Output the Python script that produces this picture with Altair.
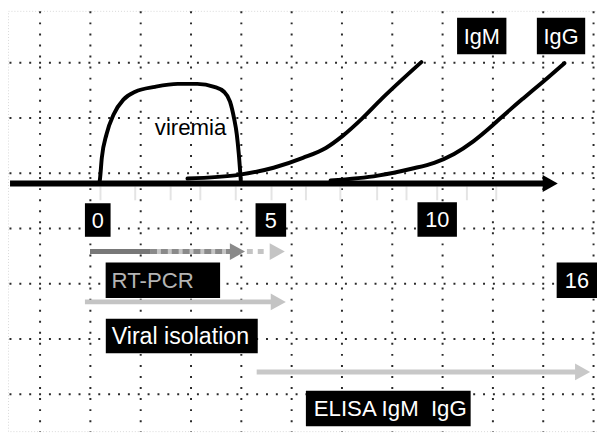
import altair as alt
import pandas as pd

# ---------------- data ----------------
# x = days after onset, y = relative level (0 = time axis)
viremia_day = [0.0, 0.03, 0.09, 0.23, 0.44, 0.73, 1.08, 1.67, 2.34, 2.92, 3.42, 3.71, 3.89, 4.01, 4.09, 4.15, 4.21]
viremia_level = [0.0, 0.3, 2.6, 5.0, 7.0, 8.5, 9.3, 9.8, 10.1, 10.1, 9.8, 9.3, 8.3, 6.6, 5.0, 3.0, 0.3]

igm_day = [2.63, 4.18, 5.18, 6.05, 6.73, 7.22, 7.81, 8.39, 8.98, 9.56]
igm_level = [0.5, 0.9, 1.6, 2.6, 3.6, 4.8, 6.6, 8.6, 10.5, 12.3]

igg_day = [6.87, 8.27, 9.27, 9.94, 10.53, 11.11, 11.64, 11.93, 12.57, 13.16, 13.80]
igg_level = [0.3, 0.8, 1.5, 2.1, 3.0, 4.3, 5.8, 6.7, 8.6, 10.3, 12.2]

tick_day = [0.05, 1.08, 2.13, 3.01, 4.06, 5.12, 6.14, 7.16, 8.25, 9.12, 10.03, 10.91, 11.78]

# labels in black boxes, centred
num_text = ["0", "5", "10", "16", "IgM", "IgG"]
num_day = [-0.03, 5.10, 10.03, 14.17, 11.35, 13.70]
num_level = [-3.7, -3.7, -3.65, -9.8, 14.95, 14.95]

# labels in black boxes, left aligned (box centre)
test_text = ["RT-PCR", "Viral isolation", "ELISA IgM\u00a0\u00a0IgG"]
test_day = [1.90, 2.46, 8.58]
test_level = [-9.8, -15.45, -22.8]

# arrows: start day, end day, level
arrow_name = ["axis", "rtpcr", "rtpcr_dash", "rtpcr_light", "isolation", "elisa"]
arrow_start = [-2.63, -0.26, 1.52, 4.39, -0.41, 4.68]
arrow_end = [13.22, 1.52, 3.89, 5.03, 5.18, 14.18]
arrow_level = [0.0, -6.9, -6.9, -6.9, -12.0, -19.1]

head_day = [13.38, 4.11, 5.29, 5.32, 14.34]
head_level = [0.0, -6.9, -6.9, -12.0, -19.1]

# ---------------- frame / style ----------------
W, H = 597, 426
X0, SX = 100.0, 34.2   # pixel of day 0, pixels per day
Y0, SY = 183.0, 10.0   # pixel of level 0, pixels per level unit
XDOM = [(8 - X0) / SX, (8 + W - X0) / SX]
YDOM = [(Y0 - 8 - H) / SY, (Y0 - 8) / SY]
grid_x = [(40 + 51 * k - X0) / SX for k in range(12)]
grid_y = [(Y0 - (60 + 56 * k)) / SY for k in range(7)]
FONT = "Liberation Sans"

box_size = {"0": (26, 34), "5": (31, 34), "10": (40, 35), "16": (41, 36),
            "IgM": (50, 37), "IgG": (49, 37),
            "RT-PCR": (116, 36), "Viral isolation": (154, 35), test_text[2]: (167, 36)}
text_pad = {"RT-PCR": 6, "Viral isolation": 6, test_text[2]: 8}
text_size = {"RT-PCR": 22.5, "Viral isolation": 23.5, test_text[2]: 22.5}
arrow_style = {"axis": ("#000000", 6), "rtpcr": ("#787878", 5), "rtpcr_dash": ("#c6c6c6", 5),
               "rtpcr_light": ("#c4c4c4", 5), "isolation": ("#c4c4c4", 5), "elisa": ("#c8c8c8", 5)}
head_color = ["#000000", "#8a8a8a", "#c4c4c4", "#c4c4c4", "#c8c8c8"]
TRI = "M-0.9,-1L0.9,0L-0.9,1Z"


def X(field):
    return alt.X(field, type="quantitative",
                 scale=alt.Scale(domain=XDOM, nice=False, zero=False),
                 axis=alt.Axis(values=grid_x, grid=True, gridColor="#2a2a2a", gridWidth=2,
                               gridDash=[2, 9.2], labels=False, ticks=False, domain=False, title=None))


def Y(field):
    return alt.Y(field, type="quantitative",
                 scale=alt.Scale(domain=YDOM, nice=False, zero=False),
                 axis=alt.Axis(values=grid_y, grid=True, gridColor="#2a2a2a", gridWidth=2,
                               gridDash=[2, 8], gridDashOffset=9, labels=False, ticks=False,
                               domain=False, title=None))


# ---------------- tables ----------------
curves = pd.concat([
    pd.DataFrame({"day": viremia_day, "level": viremia_level, "s": "viremia"}),
    pd.DataFrame({"day": igm_day, "level": igm_level, "s": "IgM"}),
    pd.DataFrame({"day": igg_day, "level": igg_level, "s": "IgG"}),
])

ticks = pd.DataFrame({"day": tick_day})
ticks["top"] = -3.0 / SY
ticks["bottom"] = -17.0 / SY

arrows = pd.DataFrame({"name": arrow_name, "x1": arrow_start, "x2": arrow_end, "y": arrow_level})
arrows["color"] = [arrow_style[n][0] for n in arrow_name]
arrows["w"] = [arrow_style[n][1] for n in arrow_name]
solid = arrows[arrows["name"].isin(["axis", "rtpcr", "rtpcr_dash", "isolation", "elisa"])]
dark_dash = arrows[arrows["name"] == "rtpcr_dash"].assign(color="#8a8a8a")
light_dash = arrows[arrows["name"] == "rtpcr_light"]

heads = pd.DataFrame({"day": head_day, "level": head_level, "color": head_color})

labels = pd.DataFrame({"text": num_text + test_text,
                       "day": num_day + test_day,
                       "level": num_level + test_level})
labels["x1"] = [d - box_size[t][0] / 2 / SX for t, d in zip(labels["text"], labels["day"])]
labels["x2"] = [d + box_size[t][0] / 2 / SX for t, d in zip(labels["text"], labels["day"])]
labels["y1"] = [l - box_size[t][1] / 2 / SY for t, l in zip(labels["text"], labels["level"])]
labels["y2"] = [l + box_size[t][1] / 2 / SY for t, l in zip(labels["text"], labels["level"])]

num_df = labels[labels["text"].isin(num_text)]
test_df = labels[labels["text"].isin(test_text)].copy()
test_df["tx"] = [x1 + text_pad[t] / SX for t, x1 in zip(test_df["text"], test_df["x1"])]
test_df["color"] = ["#b4b4b4", "#ffffff", "#ffffff"]
test_df["fs"] = [text_size[t] for t in test_df["text"]]

vir_lab = pd.DataFrame({"text": ["viremia"], "day": [2.72], "level": [5.6]})

# ---------------- layers ----------------
tick_layer = alt.Chart(ticks).mark_rule(color="#e4e4e4", strokeWidth=2).encode(
    x=X("day"), y=Y("top"), y2="bottom")

solid_layer = alt.Chart(solid).mark_rule(strokeCap="butt").encode(
    x=X("x1"), x2="x2", y=Y("y"),
    color=alt.Color("color:N", scale=None),
    strokeWidth=alt.StrokeWidth("w:Q", scale=None))

dark_dash_layer = alt.Chart(dark_dash).mark_rule(strokeCap="butt", strokeDash=[7, 4], strokeWidth=5).encode(
    x=X("x1"), x2="x2", y=Y("y"), color=alt.Color("color:N", scale=None))

light_dash_layer = alt.Chart(light_dash).mark_rule(strokeCap="butt", strokeDash=[6, 5], strokeWidth=5).encode(
    x=X("x1"), x2="x2", y=Y("y"), color=alt.Color("color:N", scale=None))

head_layer = alt.Chart(heads).mark_point(shape=TRI, filled=True, size=289, opacity=1, strokeWidth=0).encode(
    x=X("day"), y=Y("level"), color=alt.Color("color:N", scale=None))

curve_layer = alt.Chart(curves).mark_line(interpolate="monotone", color="black", strokeWidth=4,
                                          strokeCap="round").encode(
    x=X("day"), y=Y("level"), detail="s:N")

box_layer = alt.Chart(labels).mark_rect(color="black").encode(
    x=X("x1"), x2="x2", y=Y("y1"), y2="y2")

num_text_layer = alt.Chart(num_df).mark_text(font=FONT, fontSize=22, color="white",
                                             align="center", baseline="middle", dy=1).encode(
    x=X("day"), y=Y("level"), text="text:N")

test_text_layer = alt.Chart(test_df).mark_text(font=FONT, align="left",
                                               baseline="middle", dy=1).encode(
    x=X("tx"), y=Y("level"), text="text:N", color=alt.Color("color:N", scale=None),
    size=alt.Size("fs:Q", scale=None))

vir_layer = alt.Chart(vir_lab).mark_text(font=FONT, fontSize=22.5, color="black",
                                         align="center", baseline="middle").encode(
    x=X("day"), y=Y("level"), text="text:N")

chart = alt.layer(
    tick_layer, solid_layer, dark_dash_layer, light_dash_layer, curve_layer, head_layer,
    box_layer, num_text_layer, test_text_layer, vir_layer
).properties(
    width=W, height=H, padding=0, autosize=alt.AutoSizeParams(type="none"), background="white"
).configure_view(stroke="#d8d8d8", strokeDash=[1, 2], strokeWidth=1)

chart.save("out.html", embed_options={"renderer": "svg", "actions": False})
